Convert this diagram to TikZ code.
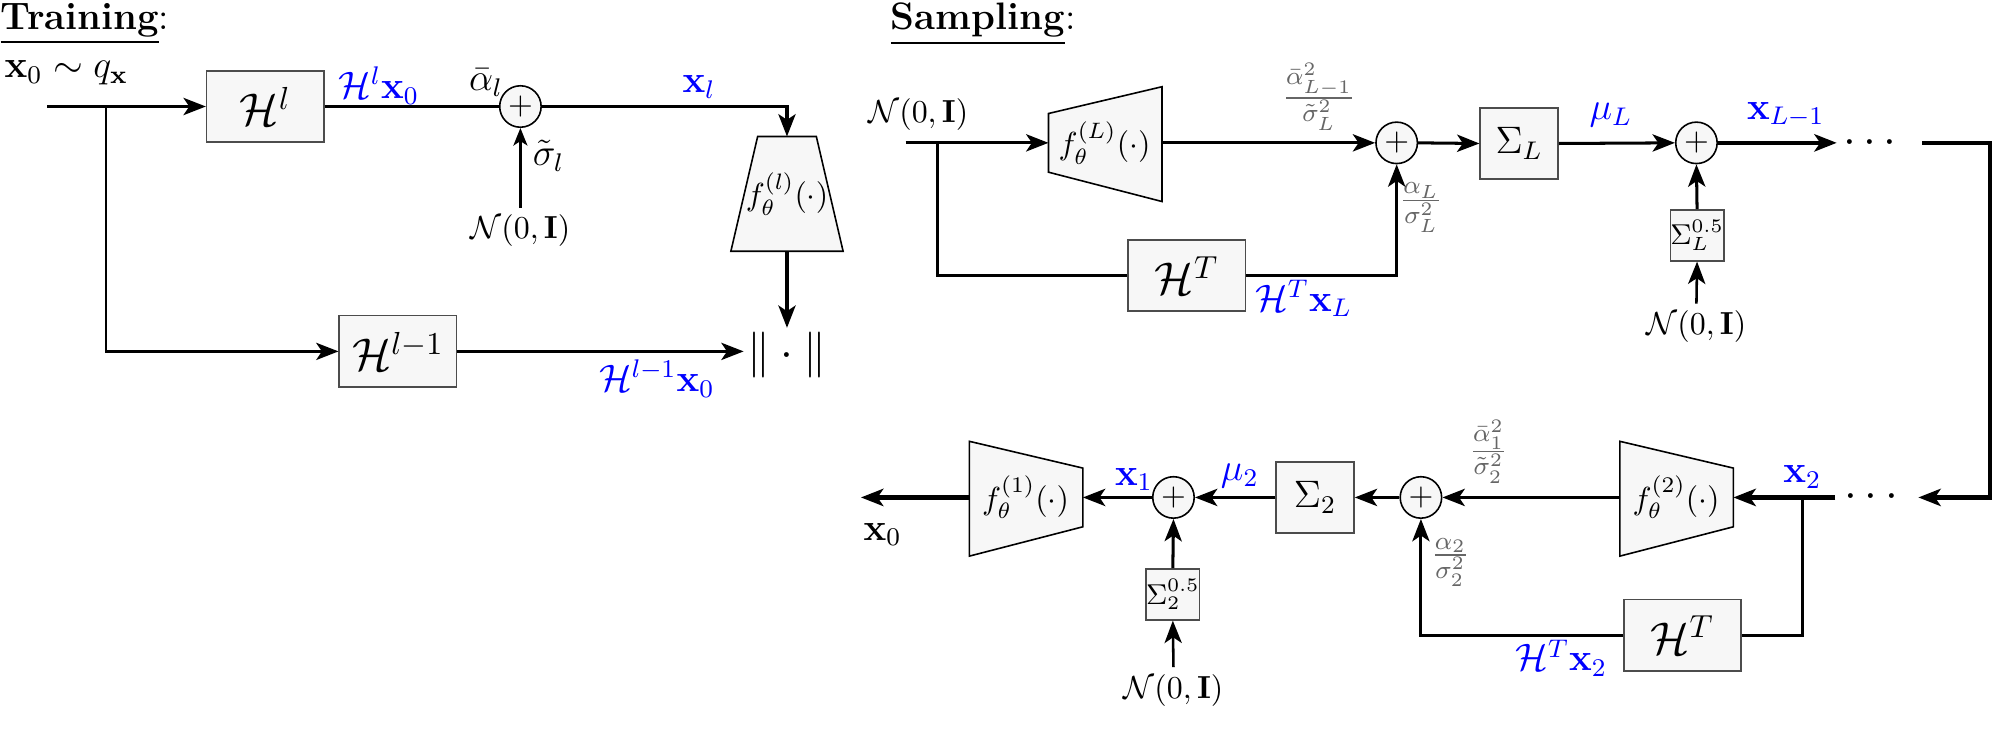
\documentclass[tikz,border=0pt]{standalone}
\usepackage{amsmath,amssymb}
\usetikzlibrary{arrows.meta,calc}
\begin{document}
\begin{tikzpicture}[x=0.4pt,y=-0.4pt,
  line/.style={line width=0.95pt},
  arr/.style={line width=0.95pt,-{Stealth[length=7pt,width=5.4pt,inset=1.8pt]}},
  tarr/.style={line width=0.7pt,-{Stealth[length=5.5pt,width=4.4pt,inset=1.4pt]}},
  box/.style={draw=black!70,fill=black!3,line width=0.5pt,inner sep=0pt},
  hbox/.style={box,minimum width=36.8pt,minimum height=22.4pt,font=\Large},
  sbox/.style={box,minimum width=24.4pt,minimum height=22.2pt,font=\large},
  tinybox/.style={box,minimum width=16.4pt,minimum height=16pt,font=\small},
  adder/.style={circle,draw=black,fill=black!3,line width=0.5pt,minimum size=13pt,inner sep=0pt},
  trap/.style={draw=black,fill=black!3,line width=0.5pt},
  blbl/.style={text=blue,font=\large,inner sep=1pt},
  glbl/.style={text=black!60,font=\large,inner sep=1pt},
  nlbl/.style={inner sep=2pt},
]
\useasboundingbox (0,0) rectangle (1568,572);

% ---------------- Training ----------------
\node[anchor=north west,inner sep=0pt,font=\large] (ttl) at (0,2) {\underline{\textbf{Training}}:};
\node[font=\large] (x0q) at (52,57) {$\mathbf{x}_0\sim q_{\mathbf{x}}$};
\coordinate (tin) at (37,83.5);
\coordinate (tbr) at (83,83.5);
\node[hbox] (Hl) at (208,83.5) {$\mathcal{H}^l$};
\node[blbl] (lHl) at (297,67) {$\mathcal{H}^l\mathbf{x}_0$};
\node[adder] (p1) at (408,83.5) {$+$};
\node[font=\large] (la1) at (381,65) {$\bar{\alpha}_l$};
\node[font=\large] (ls1) at (430,122) {$\tilde{\sigma}_l$};
\node[nlbl] (n1) at (408,181) {$\mathcal{N}(0,\mathbf{I})$};
\node[blbl] (lxl) at (548,68) {$\mathbf{x}_l$};
\filldraw[trap] (594,107) -- (640,107) -- (661,197) -- (573,197) -- cycle;
\coordinate (flT) at (617,107);
\coordinate (flB) at (617,197);
\node (fl) at (617,152) {$f_\theta^{(l)}(\cdot)$};
\node[font=\Large,inner sep=1pt] (nrm) at (617,278) {$\|\cdot\|$};
\node[hbox] (Hl1) at (312,275.5) {$\mathcal{H}^{l-1}$};
\node[blbl] (lHl1) at (515,297) {$\mathcal{H}^{l-1}\mathbf{x}_0$};

\draw[arr] (tin) -- (Hl.west);
\draw[line] (Hl.east) -- (p1.west);
\draw[tarr] (n1.north) -- (p1.south);
\draw[arr] (p1.east) -| (flT);
\draw[arr] (flB) -- (nrm.north);
\draw[arr,line width=0.7pt] (tbr) |- (Hl1.west);
\draw[arr] (Hl1.east) -- (Hl1.east -| nrm.west);

% ---------------- Sampling ----------------
\node[anchor=north west,inner sep=0pt,font=\large] (stl) at (698,2) {\underline{\textbf{Sampling}}:};
\node[nlbl] (nA) at (720,90) {$\mathcal{N}(0,\mathbf{I})$};
\coordinate (sin) at (710,112);
\coordinate (sbr) at (735,112);
\filldraw[trap] (822,89) -- (911,68) -- (911,158) -- (822,135) -- cycle;
\coordinate (fLi) at (822,112);
\coordinate (fLo) at (911,112);
\node (fL) at (866,112) {$f_\theta^{(L)}(\cdot)$};
\node[adder] (p2) at (1095,112) {$+$};
\node[glbl] (fr1) at (1034,76) {$\frac{\bar{\alpha}_{L-1}^2}{\tilde{\sigma}_L^2}$};
\node[glbl] (fr2) at (1114,163) {$\frac{\alpha_L}{\sigma_L^2}$};
\node[hbox] (HT1) at (930.5,216) {$\mathcal{H}^T$};
\node[blbl] (lHT1) at (1022,234) {$\mathcal{H}^T\mathbf{x}_L$};
\node[sbox] (SL) at (1191,112.5) {$\Sigma_L$};
\node[blbl] (lmuL) at (1263,90) {$\mu_L$};
\node[adder] (p3) at (1330,112) {$+$};
\node[blbl] (lxL1) at (1400,90) {$\mathbf{x}_{L-1}$};
\coordinate (aA) at (1440,112);
\node[font=\Large,inner sep=0pt] (dA) at (1469,112) {$\cdots$};
\coordinate (rA) at (1507,112);
\coordinate (rX) at (1560,112);
\coordinate (rB) at (1504,390);
\node[tinybox] (SLh) at (1330.5,184.5) {$\Sigma_L^{0.5}$};
\node[nlbl] (nB) at (1330,256) {$\mathcal{N}(0,\mathbf{I})$};

\draw[arr] (sin) -- (fLi);
\draw[arr] (fLo) -- (p2.west);
\draw[line] (sbr) |- (HT1.west);
\draw[arr] (HT1.east) -| (p2.south);
\draw[arr] (p2.east) -- (SL.west);
\draw[arr] (SL.east) -- (p3.west);
\draw[arr,line width=1.3pt] (p3.east) -- (aA);
\draw[arr] (SLh.north) -- (p3.south);
\draw[arr,line width=0.8pt] (nB.north) -- (SLh.south);
\draw[arr,line width=1.3pt] (rA) -- (rX) |- (rB);

% bottom row
\node[font=\Large,inner sep=0pt] (dB) at (1470,390) {$\cdots$};
\coordinate (bL) at (1439,390);
\coordinate (bbr) at (1413,390);
\filldraw[trap] (1359,367) -- (1270,346) -- (1270,436) -- (1359,413) -- cycle;
\coordinate (f2i) at (1359,390);
\coordinate (f2o) at (1270,390);
\node (f2) at (1314,390) {$f_\theta^{(2)}(\cdot)$};
\node[blbl] (lx2) at (1413,374) {$\mathbf{x}_2$};
\node[hbox] (HT2) at (1319,498) {$\mathcal{H}^T$};
\node[blbl] (lHT2) at (1224,516) {$\mathcal{H}^T\mathbf{x}_2$};
\node[adder] (p4) at (1114,390) {$+$};
\node[glbl] (fr3) at (1167,354) {$\frac{\bar{\alpha}_1^2}{\tilde{\sigma}_2^2}$};
\node[glbl] (fr4) at (1137,441) {$\frac{\alpha_2}{\sigma_2^2}$};
\node[sbox] (S2) at (1031,390) {$\Sigma_2$};
\node[blbl] (lmu2) at (972,373) {$\mu_2$};
\node[adder] (p5) at (920,390) {$+$};
\node[blbl] (lx1) at (889,376) {$\mathbf{x}_1$};
\node[tinybox] (S2h) at (919.5,466) {$\Sigma_2^{0.5}$};
\node[nlbl] (nC) at (920,541) {$\mathcal{N}(0,\mathbf{I})$};
\filldraw[trap] (849,367) -- (760,346) -- (760,436) -- (849,413) -- cycle;
\coordinate (f1i) at (849,390);
\coordinate (f1o) at (760,390);
\node (f1) at (804,390) {$f_\theta^{(1)}(\cdot)$};
\coordinate (out) at (675,390);
\node[font=\large] (lx0) at (692,419) {$\mathbf{x}_0$};

\draw[arr,line width=1.3pt] (bL) -- (f2i);
\draw[line] (bbr) |- (HT2.east);
\draw[arr] (HT2.west) -| (p4.south);
\draw[arr] (f2o) -- (p4.east);
\draw[arr] (p4.west) -- (S2.east);
\draw[arr] (S2.west) -- (p5.east);
\draw[arr] (p5.west) -- (f1i);
\draw[arr] (S2h.north) -- (p5.south);
\draw[arr,line width=0.8pt] (nC.north) -- (S2h.south);
\draw[arr,line width=1.3pt] (f1o) -- (out);
\end{tikzpicture}
\end{document}
